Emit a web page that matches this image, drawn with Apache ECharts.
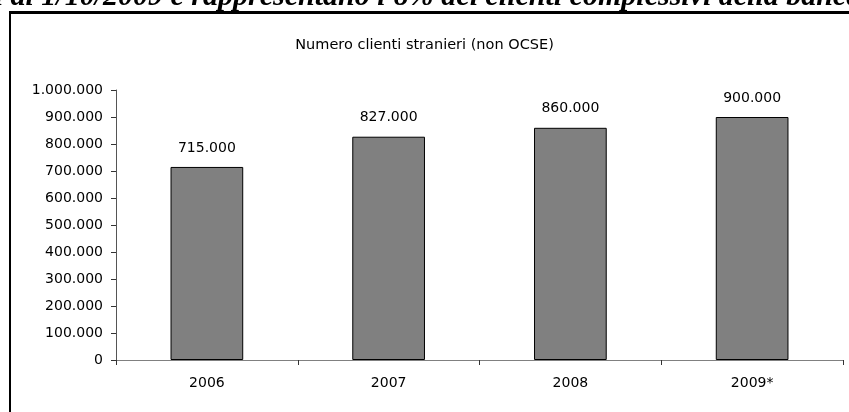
<!DOCTYPE html>
<html>
<head>
<meta charset="utf-8">
<script src="https://cdn.jsdelivr.net/npm/echarts@6/dist/echarts.min.js"></script>
<style>
  html, body { margin: 0; padding: 0; background: #fff; }
  #chart { width: 849px; height: 412px; }
</style>
</head>
<body>
<div id="chart"></div>
<script>
// Foreign (non-OECD) customers per year
const years = ['2006', '2007', '2008', '2009*'];
const clienti = [715000, 827000, 860000, 900000];
const yTicks = { min: 0, max: 1000000, step: 100000 };

const chartTitle = 'Numero clienti stranieri (non OCSE)';
const headline = "tali al 1/10/2009 e rappresentano l'8% dei clienti complessivi della banca";

// Italian thousands separator: 1.000.000
function fmt(v) {
  return String(v).replace(/\B(?=(\d{3})+(?!\d))/g, '.');
}

const font = '"DejaVu Sans", Arial, sans-serif';
const chart = echarts.init(document.getElementById('chart'), null, { renderer: 'canvas' });

chart.setOption({
  animation: false,
  backgroundColor: '#ffffff',
  title: {
    text: chartTitle,
    left: 'center',
    top: 33,
    textStyle: { fontFamily: font, fontSize: 14.5, fontWeight: 'normal', color: '#000' }
  },
  grid: { left: 116, right: 6, top: 90, bottom: 52 },
  xAxis: {
    type: 'category',
    data: years,
    boundaryGap: true,
    axisLine: { lineStyle: { color: '#808080', width: 1 } },
    axisTick: { show: true, length: 5, alignWithLabel: false, lineStyle: { color: '#333' } },
    axisLabel: { margin: 16, fontFamily: font, fontSize: 14, color: '#000' }
  },
  yAxis: {
    type: 'value',
    min: yTicks.min,
    max: yTicks.max,
    interval: yTicks.step,
    splitLine: { show: false },
    axisLine: { show: true, lineStyle: { color: '#555', width: 1 } },
    axisTick: { show: true, length: 5, lineStyle: { color: '#333' } },
    axisLabel: { margin: 13, fontFamily: font, fontSize: 14, color: '#000', formatter: fmt }
  },
  series: [{
    type: 'bar',
    data: clienti,
    barWidth: '40%',
    itemStyle: { color: '#808080', borderColor: '#000', borderWidth: 1 },
    label: {
      show: true,
      position: 'top',
      distance: 12,
      fontFamily: font,
      fontSize: 14,
      color: '#000',
      formatter: p => fmt(p.value)
    }
  }],
  graphic: [
    {
      type: 'text',
      x: -37,
      y: 12,
      style: {
        text: headline,
        verticalAlign: 'bottom',
        fontFamily: '"Liberation Serif"',
        fontStyle: 'italic',
        fontWeight: 'bold',
        fontSize: 30,
        fill: '#000'
      }
    },
    { type: 'rect', shape: { x: 9, y: 11, width: 840, height: 3 }, style: { fill: '#000' } },
    { type: 'rect', shape: { x: 9, y: 11, width: 2, height: 401 }, style: { fill: '#000' } }
  ]
});
</script>
</body>
</html>
